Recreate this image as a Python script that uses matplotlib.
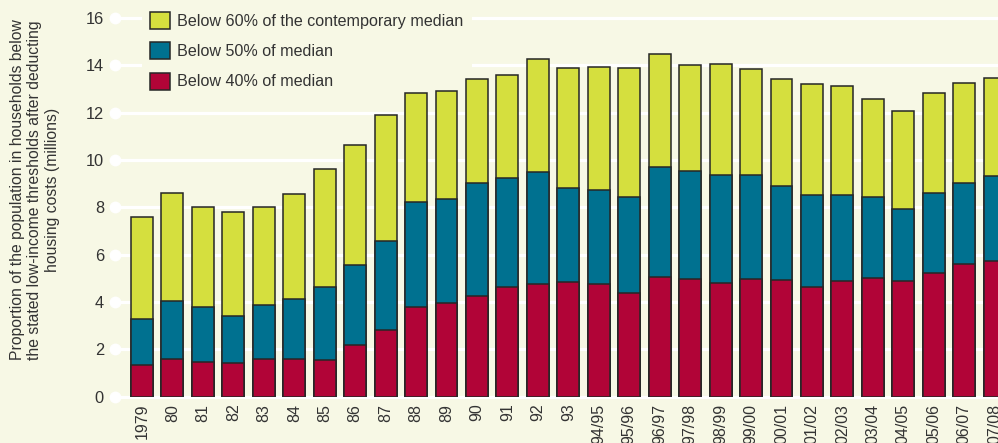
import numpy as np
import matplotlib.pyplot as plt
from matplotlib.patches import Patch
import matplotlib.transforms as mtransforms

plt.rcParams['font.family'] = ['Liberation Sans', 'DejaVu Sans']

# Data (millions of people, after housing costs)
years = ["1979", "80", "81", "82", "83", "84", "85", "86", "87", "88", "89", "90",
         "91", "92", "93", "94/95", "95/96", "96/97", "97/98", "98/99", "99/00",
         "00/01", "01/02", "02/03", "03/04", "04/05", "05/06", "06/07", "07/08"]
below_60 = [7.60, 8.62, 8.00, 7.80, 8.03, 8.55, 9.61, 10.63, 11.90, 12.82, 12.92, 13.44,
            13.60, 14.25, 13.89, 13.94, 13.90, 14.49, 14.03, 14.07, 13.86,
            13.41, 13.22, 13.11, 12.59, 12.08, 12.84, 13.25, 13.46]
below_50 = [3.28, 4.06, 3.79, 3.41, 3.86, 4.14, 4.65, 5.55, 6.58, 8.22, 8.35, 9.04,
            9.25, 9.49, 8.83, 8.72, 8.45, 9.70, 9.52, 9.38, 9.37,
            8.89, 8.53, 8.52, 8.44, 7.92, 8.61, 9.04, 9.32]
below_40 = [1.34, 1.61, 1.45, 1.41, 1.61, 1.61, 1.56, 2.18, 2.82, 3.78, 3.96, 4.25,
            4.65, 4.77, 4.83, 4.77, 4.38, 5.04, 4.97, 4.82, 4.99,
            4.93, 4.65, 4.87, 5.00, 4.90, 5.21, 5.62, 5.75]
labels = ["Below 60% of the contemporary median", "Below 50% of median", "Below 40% of median"]

bg = "#f7f8e5"
yellow = "#d5df3e"
blue = "#007190"
red = "#b10437"
edge = "#262626"
txt = "#333333"

W, H = 998, 443
fig = plt.figure(figsize=(W / 100, H / 100), dpi=100, facecolor=bg)
ax = fig.add_axes([115 / W, (H - 396.7) / H, (W - 115) / W, 396.7 / H])
ax.set_facecolor(bg)

x = np.arange(len(years))
bw = 0.72
ax.bar(x, below_60, bw, color=yellow, edgecolor=edge, linewidth=1.1, zorder=3)
ax.bar(x, below_50, bw, color=blue, edgecolor=edge, linewidth=1.1, zorder=4)
ax.bar(x, below_40, bw, color=red, edgecolor=edge, linewidth=1.1, zorder=5)

ax.set_xlim(-0.887, 28.11)
ax.set_ylim(0, 16.76)

# white gridlines with a dot at the left end
yt = np.arange(0, 17, 2)
trans = mtransforms.blended_transform_factory(ax.transAxes, ax.transData)
for v in yt:
    ax.axhline(v, color="white", linewidth=2.3, zorder=1, clip_on=False)
ax.plot(np.zeros(len(yt)), yt, "o", color="white", markersize=7.5,
        transform=trans, clip_on=False, zorder=2)

ax.set_yticks(yt)
ax.set_yticklabels([str(v) for v in yt])
ax.set_xticks(x)
ax.set_xticklabels(years, rotation=90)
ax.tick_params(axis="y", length=0, pad=8, labelsize=11.8, labelcolor=txt)
ax.tick_params(axis="x", length=0, pad=5, labelsize=11.5, labelcolor=txt)
for s in ax.spines.values():
    s.set_visible(False)

fig.text(35 / W, 1 - 190 / H,
         "Proportion of the population in households below\n"
         "the stated low-income thresholds after deducting\n"
         "housing costs (millions)",
         rotation=90, ha="center", va="center", multialignment="center",
         fontsize=11.3, color=txt, linespacing=1.2)

handles = [Patch(facecolor=c, edgecolor=edge, linewidth=1.1) for c in (yellow, blue, red)]
leg = ax.legend(handles, labels, loc="upper left",
                bbox_to_anchor=(142 / W, 1 - 4 / H), bbox_transform=fig.transFigure,
                fontsize=11.6, frameon=True, fancybox=False, framealpha=1,
                facecolor=bg, edgecolor="none", borderaxespad=0, borderpad=0.5,
                handlelength=1.25, handleheight=1.25, handletextpad=0.45,
                labelspacing=0.82)
for t in leg.get_texts():
    t.set_color(txt)
# legend box hides the gridlines but sits under the bars
leg.set_zorder(2.5)

fig.savefig("out.png", dpi=100, facecolor=bg)
